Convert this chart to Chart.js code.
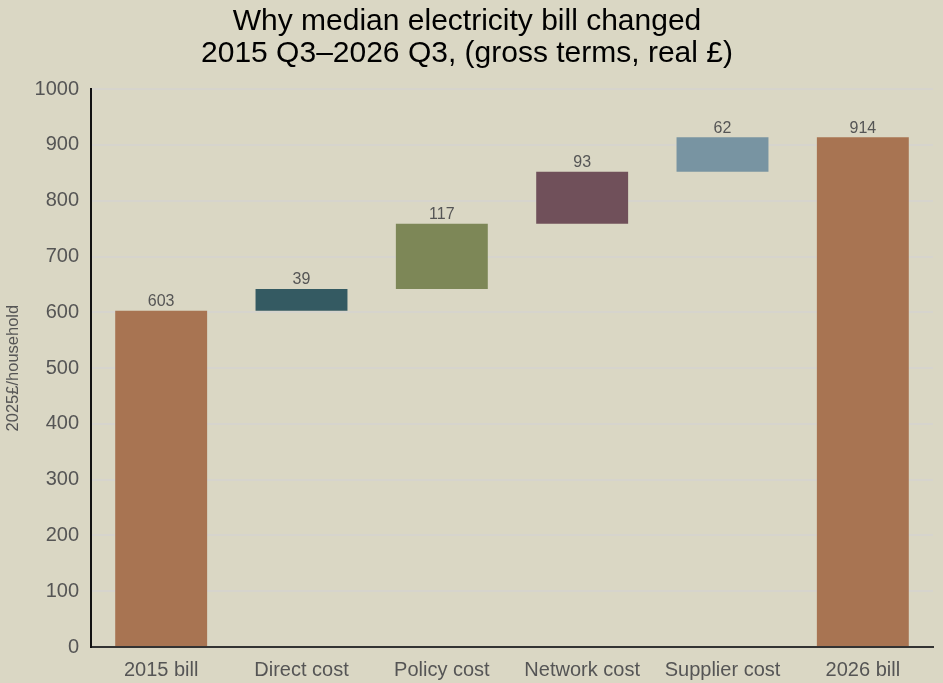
<!DOCTYPE html>
<html>
<head>
<meta charset="utf-8">
<script src="https://cdn.jsdelivr.net/npm/chart.js@4/dist/chart.umd.min.js"></script>
<style>
  html, body { margin: 0; padding: 0; background: #dad7c4; }
  #wrap { width: 943px; height: 683px; position: relative; }
</style>
</head>
<body>
<div id="wrap"><canvas id="c" width="943" height="683"></canvas></div>
<script>
const categories = ["2015 bill", "Direct cost", "Policy cost", "Network cost", "Supplier cost", "2026 bill"];
const changes = [603, 39, 117, 93, 62, 914];
const isTotal = [true, false, false, false, false, true];
const barColors = ["#a87452", "#345a62", "#7d8757", "#70505a", "#7894a2", "#a87452"];
const yTicks = [0, 100, 200, 300, 400, 500, 600, 700, 800, 900, 1000];
const titleLines = ["Why median electricity bill changed", "2015 Q3\u20132026 Q3, (gross terms, real \u00a3)"];
const yTitle = "2025\u00a3/household";

// floating ranges built from the changes
const ranges = [];
let running = 0;
changes.forEach((v, i) => {
  if (isTotal[i]) { ranges.push([0, v]); running = v; }
  else { ranges.push([running, running + v]); running += v; }
});

const labelPlugin = {
  id: 'valueLabels',
  afterDatasetsDraw(chart) {
    const ctx = chart.ctx;
    const meta = chart.getDatasetMeta(0);
    ctx.save();
    ctx.font = '16px "Liberation Sans", Arial, sans-serif';
    ctx.fillStyle = '#555555';
    ctx.textAlign = 'center';
    ctx.textBaseline = 'bottom';
    meta.data.forEach((bar, i) => {
      const top = Math.min(bar.y, bar.base);
      ctx.fillText(String(changes[i]), bar.x, top - 1);
    });
    ctx.restore();
  }
};

const bgPlugin = {
  id: 'bg',
  beforeDraw(chart) {
    const ctx = chart.ctx;
    ctx.save();
    ctx.fillStyle = '#dad7c4';
    ctx.fillRect(0, 0, chart.width, chart.height);
    ctx.restore();
  }
};

new Chart(document.getElementById('c'), {
  type: 'bar',
  data: {
    labels: categories,
    datasets: [{
      data: ranges,
      backgroundColor: barColors,
      borderWidth: 0,
      borderSkipped: false,
      barPercentage: 1,
      categoryPercentage: 0.655
    }]
  },
  options: {
    responsive: false,
    animation: false,
    devicePixelRatio: 1,
    layout: { padding: { left: 1, right: 10, top: 0, bottom: 0 } },
    plugins: {
      legend: { display: false },
      tooltip: { enabled: false },
      title: {
        display: true,
        text: titleLines,
        color: '#000000',
        font: { family: '"Liberation Sans", Arial, sans-serif', size: 30, weight: 'normal', lineHeight: 1.07 },
        padding: { top: 6, bottom: 19 }
      }
    },
    scales: {
      x: {
        afterFit(scale) { scale.height = 36; },
        grid: { display: false, drawTicks: false },
        border: { display: true, color: '#333333', width: 2 },
        ticks: {
          color: '#555555',
          padding: 11,
          font: { family: '"Liberation Sans", Arial, sans-serif', size: 20 }
        }
      },
      y: {
        min: 0,
        max: 1000,
        afterBuildTicks(scale) { scale.ticks = yTicks.map(v => ({ value: v })); },
        afterFit(scale) { scale.width = 90; },
        grid: { color: '#d6d4cd', lineWidth: 2, drawTicks: false },
        border: { display: true, color: '#111111', width: 2 },
        title: {
          display: true,
          text: yTitle,
          color: '#555555',
          font: { family: '"Liberation Sans", Arial, sans-serif', size: 16.5 },
          padding: { top: 3, bottom: 10 }
        },
        ticks: {
          color: '#555555',
          padding: 12,
          font: { family: '"Liberation Sans", Arial, sans-serif', size: 20 },
          callback(v) { return String(v); }
        }
      }
    }
  },
  plugins: [bgPlugin, labelPlugin]
});
</script>
</body>
</html>
